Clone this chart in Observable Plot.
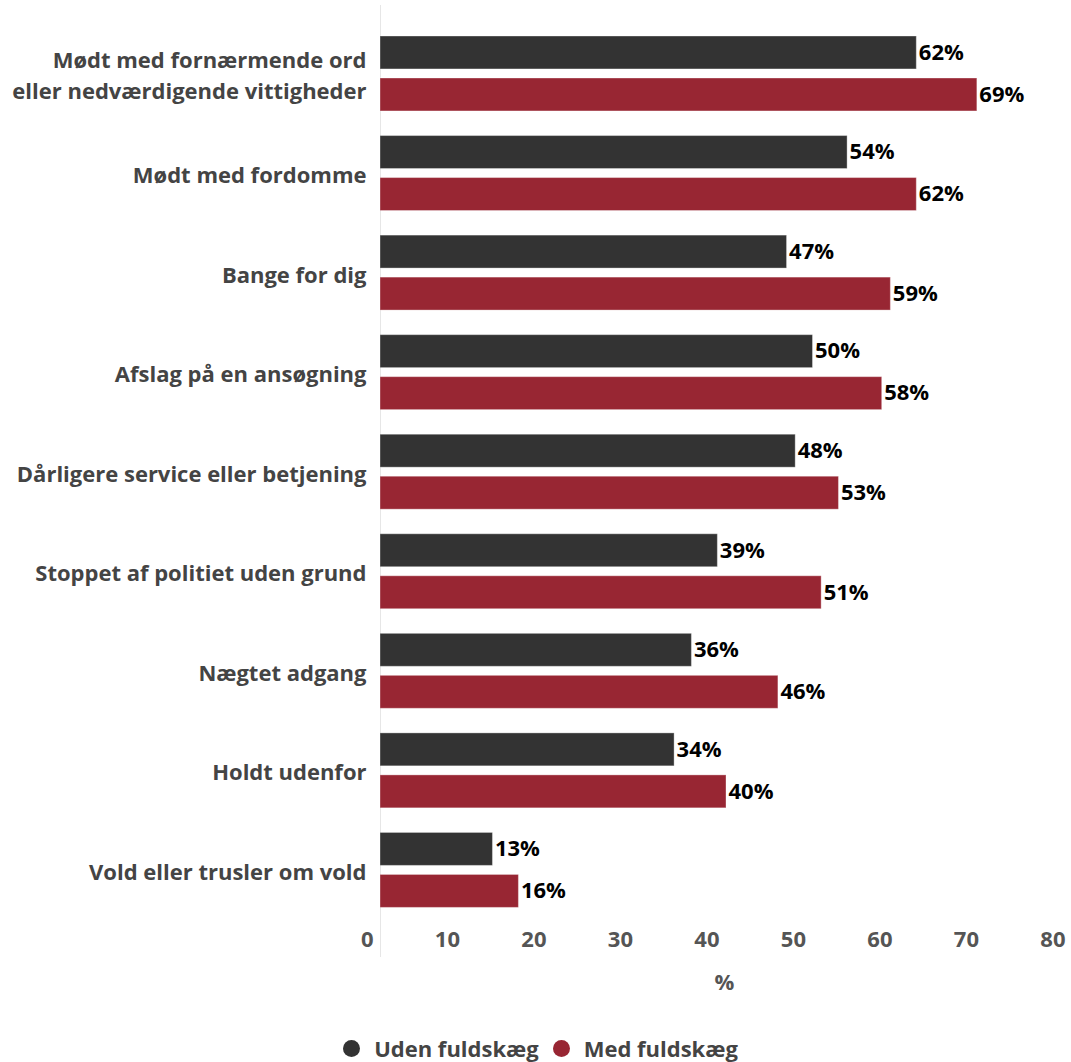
<!DOCTYPE html>
<html>
<head>
<meta charset="utf-8">
<script src="https://cdn.jsdelivr.net/npm/d3@7"></script>
<script src="https://cdn.jsdelivr.net/npm/@observablehq/plot@0.6"></script>
<style>
  html, body { margin: 0; padding: 0; background: #fff; }
  body { width: 1071px; height: 1062px; overflow: hidden; font-family: "Open Sans", "Noto Sans", sans-serif; }
  #legend { margin-top: 14px; height: 28px; display: flex; justify-content: center; align-items: center; font-weight: 700; font-size: 22px; color: #444; padding-left: 10px; }
  #legend .item { display: flex; align-items: center; margin: 0 7px; }
  #legend .dot { width: 17px; height: 17px; border-radius: 50%; margin-right: 14px; }
</style>
</head>
<body>
<div id="chart"></div>
<div id="legend"></div>
<script>
const categories = [
  "Mødt med fornærmende ord\neller nedværdigende vittigheder",
  "Mødt med fordomme",
  "Bange for dig",
  "Afslag på en ansøgning",
  "Dårligere service eller betjening",
  "Stoppet af politiet uden grund",
  "Nægtet adgang",
  "Holdt udenfor",
  "Vold eller trusler om vold"
];
const udenFuldskaeg = [62, 54, 47, 50, 48, 39, 36, 34, 13];
const medFuldskaeg = [69, 62, 59, 58, 53, 51, 46, 40, 16];
const seriesNames = ["Uden fuldskæg", "Med fuldskæg"];
const seriesColors = ["#333333", "#982633"];
const xTicks = [0, 10, 20, 30, 40, 50, 60, 70, 80];

const uden = categories.map((c, i) => ({category: c, value: udenFuldskaeg[i]}));
const med = categories.map((c, i) => ({category: c, value: medFuldskaeg[i]}));

const font = "'Open Sans', 'Noto Sans', sans-serif";

const chart = Plot.plot({
  width: 1071,
  height: 1020,
  marginTop: 23,
  marginBottom: 101,
  marginLeft: 380,
  marginRight: 3,
  style: {fontFamily: font, fontSize: "22px", fontWeight: 700, background: "#fff"},
  x: {domain: [0, 80], range: [380, 1072]},
  y: {domain: categories, padding: 0, round: false},
  marks: [
    Plot.ruleX([0], {stroke: "#e6e6e6", insetTop: -18, insetBottom: -38}),
    Plot.barX(uden, {x: "value", y: "category", fill: seriesColors[0], stroke: "#ffffff", strokeOpacity: 0.35, insetTop: 13, insetBottom: 53.6}),
    Plot.barX(med, {x: "value", y: "category", fill: seriesColors[1], stroke: "#ffffff", strokeOpacity: 0.35, insetTop: 55, insetBottom: 11.6}),
    Plot.text(uden, {x: "value", y: "category", text: d => d.value + "%", textAnchor: "start", dx: 2, dy: -20.5, fill: "#000", fontSize: 22, fontWeight: 700}),
    Plot.text(med, {x: "value", y: "category", text: d => d.value + "%", textAnchor: "start", dx: 2, dy: 21.5, fill: "#000", fontSize: 22, fontWeight: 700}),
    Plot.axisY({tickSize: 0, tickPadding: 14, label: null, fill: "#444", fontSize: 22, fontWeight: 700, lineHeight: 1.45}),
    Plot.axisX({ticks: xTicks, tickSize: 0, tickPadding: 12, textAnchor: "end", dx: -7, fill: "#555", fontSize: 22, fontWeight: 700, label: "%", labelAnchor: "center", labelArrow: false, labelOffset: 70})
  ]
});
document.getElementById("chart").appendChild(chart);

const legend = document.getElementById("legend");
seriesNames.forEach((name, i) => {
  const item = document.createElement("div");
  item.className = "item";
  const dot = document.createElement("span");
  dot.className = "dot";
  dot.style.background = seriesColors[i];
  const label = document.createElement("span");
  label.textContent = name;
  item.appendChild(dot);
  item.appendChild(label);
  legend.appendChild(item);
});
</script>
</body>
</html>
